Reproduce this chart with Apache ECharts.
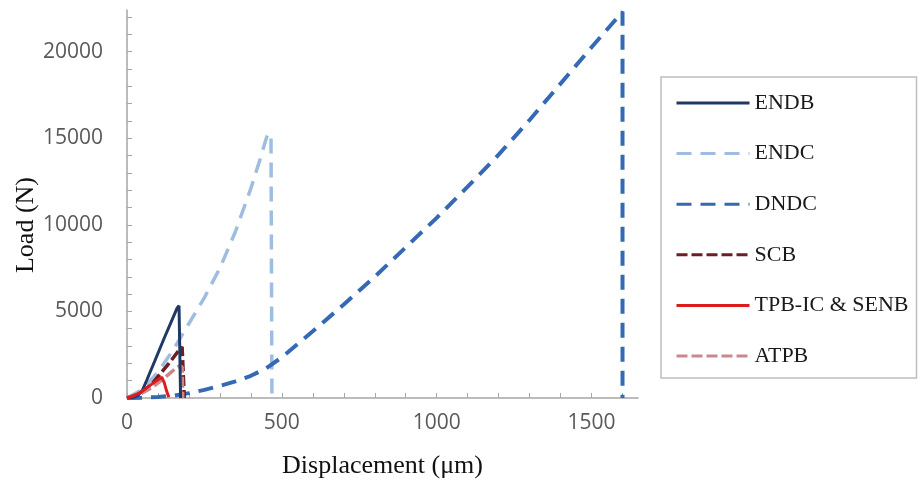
<!DOCTYPE html>
<html lang="en">
<head>
    <meta charset="UTF-8">
    <title>Load - Displacement</title>
    <script src="https://cdn.jsdelivr.net/npm/echarts@6/dist/echarts.min.js"></script>
    <style>
        html, body { margin: 0; padding: 0; background: #fff; }
        #main { width: 920px; height: 486px; }
    </style>
</head>
<body>
    <div id="main"></div>
</body>
<script>
    // displacement (um), load (N) pairs
    let endb = [[0, 0], [20, 30], [35, 150], [50, 450], [64, 1040], [90, 2150], [120, 3450], [150, 4700], [162, 5200], [168, 5330], [172, 5250], [173, 0]];
    let endc = [[0, 0], [50, 500], [100, 1500], [150, 2800], [200, 4300], [250, 5800], [300, 7500], [350, 9600], [400, 12100], [430, 13800], [455, 15300], [465, 15000], [468, 14900], [468, 0]];
    let dndc = [[0, 0], [50, 20], [100, 60], [150, 130], [200, 280], [250, 470], [300, 700], [350, 960], [400, 1280], [450, 1720], [500, 2350], [600, 3850], [700, 5400], [800, 7000], [900, 8700], [1000, 10400], [1100, 12200], [1200, 14050], [1300, 16050], [1400, 18150], [1500, 20250], [1600, 22300], [1600, 0]];
    let scb = [[0, 0], [40, 250], [80, 800], [110, 1450], [140, 2100], [165, 2700], [178, 2950], [184, 2850], [185, 0]];
    let tpb = [[0, 0], [20, 100], [50, 400], [80, 800], [100, 1050], [112, 1200], [120, 900], [128, 400], [135, 50]];
    let atpb = [[0, 0], [40, 200], [80, 600], [110, 1000], [140, 1450], [160, 1750], [170, 1850], [178, 1800], [180, 0]];

    let names = ['ENDB', 'ENDC', 'DNDC', 'SCB', 'TPB-IC & SENB', 'ATPB'];
    let xLabels = [0, 500, 1000, 1500];
    let yLabels = [0, 5000, 10000, 15000, 20000];

    let chart = echarts.init(document.getElementById('main'));

    function line(name, data, color, width, dash, z) {
        return {
            name: name,
            type: 'line',
            data: data,
            symbol: 'none',
            z: z,
            lineStyle: { color: color, width: width, type: dash },
            itemStyle: { color: color }
        };
    }

    let option = {
        animation: false,
        grid: { left: 127, right: 282, top: 10, bottom: 88 },
        legend: {
            data: names,
            orient: 'vertical',
            left: 661,
            top: 77,
            itemWidth: 73,
            itemHeight: 24,
            itemGap: 28.6,
            padding: [15, 8, 11, 14],
            borderColor: '#bfbfbf',
            borderWidth: 1.5,
            itemStyle: { color: 'transparent', opacity: 0, borderWidth: 0 },
            lineStyle: { width: 3 },
            textStyle: { fontFamily: 'Liberation Serif', fontSize: 22, color: '#1a1a1a' }
        },
        xAxis: {
            type: 'value',
            min: 0,
            max: 1650,
            interval: 100,
            name: 'Displacement (μm)',
            nameLocation: 'middle',
            nameGap: 55,
            nameTextStyle: { fontFamily: 'Liberation Serif', fontSize: 26, color: '#111' },
            splitLine: { show: false },
            axisLine: { lineStyle: { color: '#a6a6a6', width: 1.5 } },
            axisTick: { inside: true, length: 5, lineStyle: { color: '#a6a6a6' } },
            axisLabel: {
                showMaxLabel: false,
                margin: 15,
                fontFamily: 'Open Sans',
                fontSize: 21,
                color: '#595959',
                formatter: function (v) { return xLabels.indexOf(v) >= 0 ? String(v) : ''; }
            }
        },
        yAxis: {
            type: 'value',
            min: 0,
            max: 22400,
            interval: 1000,
            splitLine: { show: false },
            axisLine: { show: true, lineStyle: { color: '#a6a6a6', width: 1.5 } },
            axisTick: { show: true, inside: true, length: 5, lineStyle: { color: '#a6a6a6' } },
            axisLabel: {
                showMaxLabel: false,
                margin: 24,
                fontFamily: 'Open Sans',
                fontSize: 21,
                color: '#595959',
                formatter: function (v) { return yLabels.indexOf(v) >= 0 ? String(v) : ''; }
            }
        },
        graphic: [{
            type: 'text',
            rotation: Math.PI / 2,
            x: 26, y: 225,
            style: { text: 'Load (N)', font: '26px "Liberation Serif"', fill: '#111', align: 'center', verticalAlign: 'middle' }
        }],
        series: [
            line(names[0], endb, '#1f3864', 3, 'solid', 5),
            line(names[1], endc, '#9fbde0', 3.5, [15, 9], 2),
            line(names[2], dndc, '#3569b3', 4, [15, 9], 3),
            line(names[3], scb, '#6e1d24', 3.5, [11, 4], 4),
            line(names[4], tpb, '#e01b1b', 3, 'solid', 6),
            line(names[5], atpb, '#c9898c', 3.5, [11, 4], 4)
        ]
    };

    chart.setOption(option);
</script>
</html>
